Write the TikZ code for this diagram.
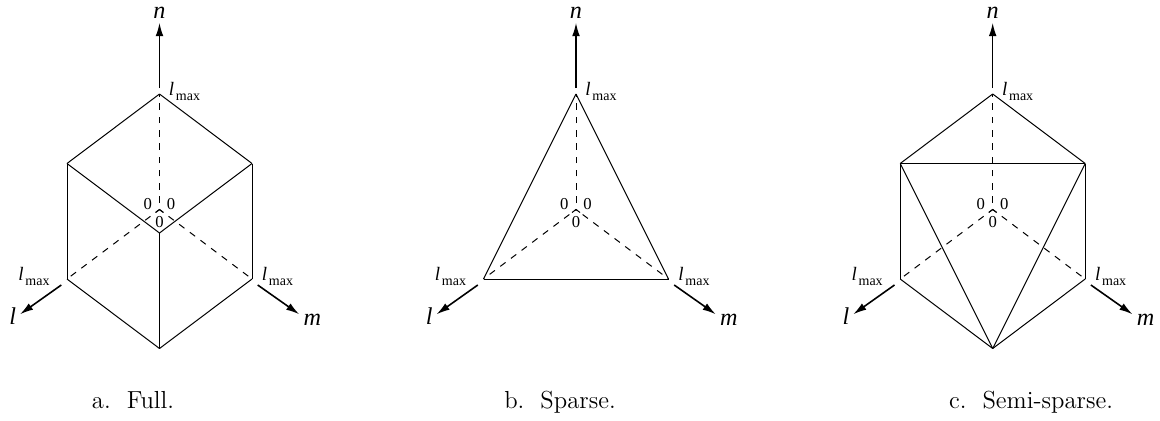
\documentclass[tikz,border=0pt]{standalone}
\usepackage{fontspec}
\newfontfamily\labelfont{Liberation Serif}
\usetikzlibrary{arrows.meta}
\newcommand{\lmax}{{\labelfont\itshape l}\kern1pt\raisebox{-3pt}{\labelfont\fontsize{8.4}{9}\selectfont max}}
\tikzset{
  edge/.style={line width=0.6pt, draw=black},
  hidden/.style={line width=0.6pt, draw=black, dash pattern=on 3.96pt off 4.02pt},
  axis/.style={-{Latex[length=8pt,width=4.6pt]}, line width=0.95pt, draw=black},
  axislabel/.style={font=\labelfont\itshape\fontsize{14.5}{15}\selectfont, inner sep=0pt},
  limit/.style={font=\fontsize{11.4}{12}\selectfont, inner sep=0pt},
  zero/.style={font=\labelfont\fontsize{10}{11}\selectfont, inner sep=0pt},
  caption/.style={font=\fontsize{14.8}{16}\selectfont, inner sep=0pt, anchor=base}
}
\begin{document}
\begin{tikzpicture}[x=0.6pt,y=-0.6pt]
  \useasboundingbox (0,0) rectangle (1160,421);
  % corners, axes and labels are the same in all three
  \foreach \p/\x/\f in {a/159.5/1.2,b/576/3,c/992.7/1.2}{
    \coordinate (\p top) at (\x,94);
    \coordinate (\p ul) at (\x-92.5,163.5);
    \coordinate (\p ur) at (\x+92.5,163.5);
    \coordinate (\p ll) at (\x-92.5,279);
    \coordinate (\p lr) at (\x+92.5,279);
    \coordinate (\p bot) at (\x,348.5);
    \coordinate (\p mid) at (\x,233);
    \coordinate (\p org) at (\x,209.5);
    \coordinate (\p chl) at (\x-4,212.5);
    \coordinate (\p chr) at (\x+4,212.5);
    \coordinate (\p nfrom) at (\x,88);
    \coordinate (\p lfrom) at (\x-98.2,285);
    \coordinate (\p mfrom) at (\x+98.2,285);
    \coordinate (\p nend) at (\x,22.7);
    \coordinate (\p lend) at (\x-139.5,314.3);
    \coordinate (\p mend) at (\x+139.8,314.3);
    \draw[hidden,dash phase=4.08pt] (\p org) -- (\p top);
    \draw[hidden,dash phase=\f pt] (\p org) -- (\p ll);
    \draw[hidden,dash phase=\f pt] (\p org) -- (\p lr);
    \draw[edge] (\p chl) -- (\p org) -- (\p chr);
    \draw[axis] (\p nfrom) -- (\p nend);
    \draw[axis] (\p lfrom) -- (\p lend);
    \draw[axis] (\p mfrom) -- (\p mend);
    \node[axislabel] (\p n) at (\x,13) {n};
    \node[axislabel] (\p l) at (\x-146.8,316) {l};
    \node[axislabel] (\p m) at (\x+152.8,320) {m};
    \node[limit] (\p toplim) at (\x+25,91) {\lmax};
    \node[limit] (\p leftlim) at (\x-125.5,276) {\lmax};
    \node[limit] (\p rightlim) at (\x+118,276) {\lmax};
    \node[zero] (\p zl) at (\x-11.8,204) {0};
    \node[zero] (\p zr) at (\x+11.5,204) {0};
    \node[zero] (\p zb) at (\x,221.7) {0};
  }
  \foreach \a/\b in {atop/aul,atop/aur,aul/all,aur/alr,all/abot,alr/abot,aul/amid,aur/amid,amid/abot,
                     btop/bll,btop/blr,bll/blr,
                     ctop/cul,ctop/cur,cul/cur,cul/cll,cur/clr,cll/cbot,clr/cbot,cul/cbot,cur/cbot}
    \draw[edge] (\a) -- (\b);
  \node[caption] (capa) at (133,408) {a.\ \ Full.};
  \node[caption] (capb) at (560,408) {b.\ \ Sparse.};
  \node[caption] (capc) at (1031,408) {c.\ \ Semi-sparse.};
\end{tikzpicture}
\end{document}
